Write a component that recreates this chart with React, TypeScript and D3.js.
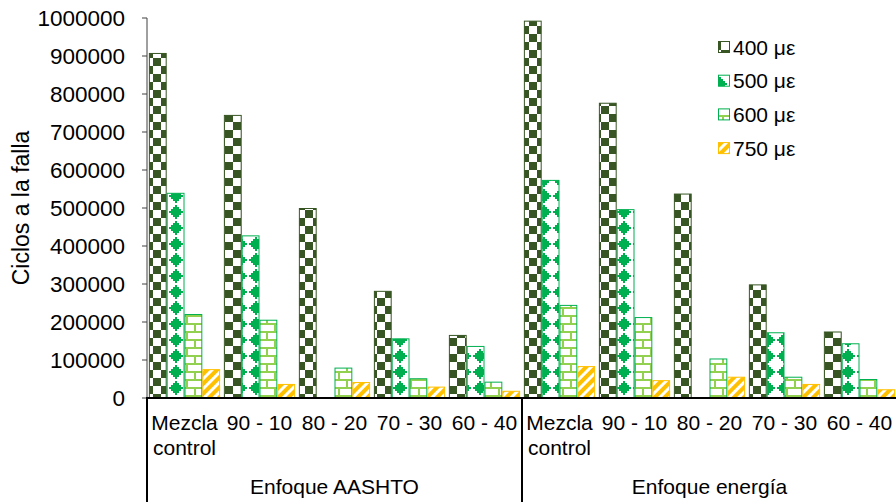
import React from "react";
import * as d3 from "d3";

const groups = ["Enfoque AASHTO", "Enfoque energía"];
const mixes = ["Mezcla control", "90 - 10", "80 - 20", "70 - 30", "60 - 40"];
const seriesNames = ["400 με", "500 με", "600 με", "750 με"];
const aashto400 = [908000, 745000, 500000, 282000, 166000];
const aashto500 = [540000, 428000, 0, 157000, 137000];
const aashto600 = [221000, 206000, 80000, 52000, 43000];
const aashto750 = [76000, 37000, 42000, 30000, 19000];
const energia400 = [993000, 777000, 538000, 299000, 175000];
const energia500 = [574000, 497000, 0, 173000, 144000];
const energia600 = [245000, 213000, 104000, 56000, 50000];
const energia750 = [84000, 47000, 56000, 37000, 23000];
const yTicks = [0, 100000, 200000, 300000, 400000, 500000, 600000, 700000, 800000, 900000, 1000000];

const seriesValues = [
  [...aashto400, ...energia400],
  [...aashto500, ...energia500],
  [...aashto600, ...energia600],
  [...aashto750, ...energia750],
];
const categories = groups.flatMap((g) => mixes.map((m) => g + "|" + m));

const W = 896, H = 502;
const left = 147, right = 897, top = 18, bottom = 398;
const FONT = "'Liberation Sans', Arial, sans-serif";
const FS = 21;
const FS_Y = 22.5;

const fills = ["url(#pChecker)", "url(#pDiamond)", "url(#pBrick)", "url(#pStripe)"];
const strokes = ["#375623", "#00B050", "#00B050", "#FFC000"];

export default function App() {
  const x = d3.scaleBand<string>().domain(categories).range([left, right]).paddingInner(0.05).paddingOuter(0.025);
  const xs = d3.scaleBand<number>().domain([0, 1, 2, 3]).range([0, x.bandwidth()]);
  const y = d3.scaleLinear().domain([0, 1000000]).range([bottom, top]);
  const fmt = d3.format("d");

  const diamondRows = [
    [3, 1], [2, 3], [1, 5], [0, 7], [1, 5], [2, 3], [3, 1],
  ];

  const dividers = [left, (x(categories[5]) as number) - x.step() * 0.025, right];

  return (
    <svg width={W} height={H} style={{ position: "absolute", left: 0, top: 0, background: "#fff" }} fontFamily={FONT}>
      <defs>
        <pattern id="pChecker" patternUnits="userSpaceOnUse" width={16} height={16} x={1} y={2}>
          <rect width={16} height={16} fill="#fff" />
          <rect x={0} y={0} width={8} height={8} fill="#375623" />
          <rect x={8} y={8} width={8} height={8} fill="#375623" />
        </pattern>
        <pattern id="pDiamond" patternUnits="userSpaceOnUse" width={16} height={16} x={9} y={13}>
          <rect width={16} height={16} fill="#fff" />
          {diamondRows.map(([s, n], i) => (
            <rect key={i} x={s * 2} y={i * 2} width={n * 2} height={2} fill="#00B050" />
          ))}
        </pattern>
        <pattern id="pBrick" patternUnits="userSpaceOnUse" width={16} height={16} x={0} y={3}>
          <rect width={16} height={16} fill="#fff" />
          <rect x={0} y={0} width={16} height={2} fill="#92D050" />
          <rect x={0} y={8} width={16} height={2} fill="#92D050" />
          <rect x={2} y={0} width={2} height={8} fill="#92D050" />
          <rect x={10} y={8} width={2} height={8} fill="#92D050" />
        </pattern>
        <pattern id="pStripe" patternUnits="userSpaceOnUse" width={7} height={7} patternTransform="rotate(45)">
          <rect width={7} height={7} fill="#fff" />
          <rect x={0} y={0} width={4} height={7} fill="#FFC000" />
        </pattern>
      </defs>

      {seriesValues.map((vals, si) => (
        <g key={si}>
          {vals.map((v, ci) => {
            if (v <= 0) return null;
            const bx = (x(categories[ci]) as number) + (xs(si) as number);
            const by = y(v);
            return (
              <rect key={ci} x={bx + 0.5} y={by + 0.5} width={xs.bandwidth() - 1} height={bottom - by - 0.5}
                fill={fills[si]} stroke={strokes[si]} strokeWidth={1} />
            );
          })}
        </g>
      ))}

      <line x1={left} x2={left} y1={top} y2={bottom} stroke="#404040" strokeWidth={1} />
      {yTicks.map((t) => (
        <g key={t}>
          <line x1={left - 5} x2={left} y1={y(t)} y2={y(t)} stroke="#404040" strokeWidth={1} />
          <text x={125} y={y(t)} dy="0.36em" textAnchor="end" fontSize={FS_Y} fill="#000">{fmt(t)}</text>
        </g>
      ))}
      <text transform={`translate(29,${(top + bottom) / 2}) rotate(-90)`} textAnchor="middle" fontSize={23} fill="#000">
        Ciclos a la falla
      </text>

      <line x1={left - 1} x2={right} y1={bottom} y2={bottom} stroke="#000" strokeWidth={2} />
      {dividers.map((lx, i) => (
        <line key={i} x1={lx} x2={lx} y1={bottom} y2={H} stroke="#000" strokeWidth={2} />
      ))}
      {categories.map((c, ci) => {
        const cx = (x(c) as number) + x.bandwidth() / 2;
        const label = mixes[ci % 5];
        const parts = label === "Mezcla control" ? ["Mezcla", "control"] : [label];
        return (
          <text key={c} x={cx} y={430} textAnchor="middle" fontSize={FS} fill="#000">
            {parts.map((p, i) => (
              <tspan key={i} x={cx} dy={i === 0 ? 0 : 25}>{p}</tspan>
            ))}
          </text>
        );
      })}
      {groups.map((g, gi) => {
        const x0 = (x(categories[gi * 5]) as number);
        const x1 = (x(categories[gi * 5 + 4]) as number) + x.bandwidth();
        return (
          <text key={g} x={(x0 + x1) / 2} y={494} textAnchor="middle" fontSize={FS} fill="#000">{g}</text>
        );
      })}

      {seriesNames.map((s, si) => {
        const ly = 47 + si * 33.7;
        return (
          <g key={s}>
            <rect x={718.5} y={ly - 5.5} width={11} height={11} fill={fills[si]} stroke={strokes[si]} strokeWidth={1} />
            <text x={733} y={ly} dy="0.36em" fontSize={FS} fill="#000">{s}</text>
          </g>
        );
      })}
    </svg>
  );
}
